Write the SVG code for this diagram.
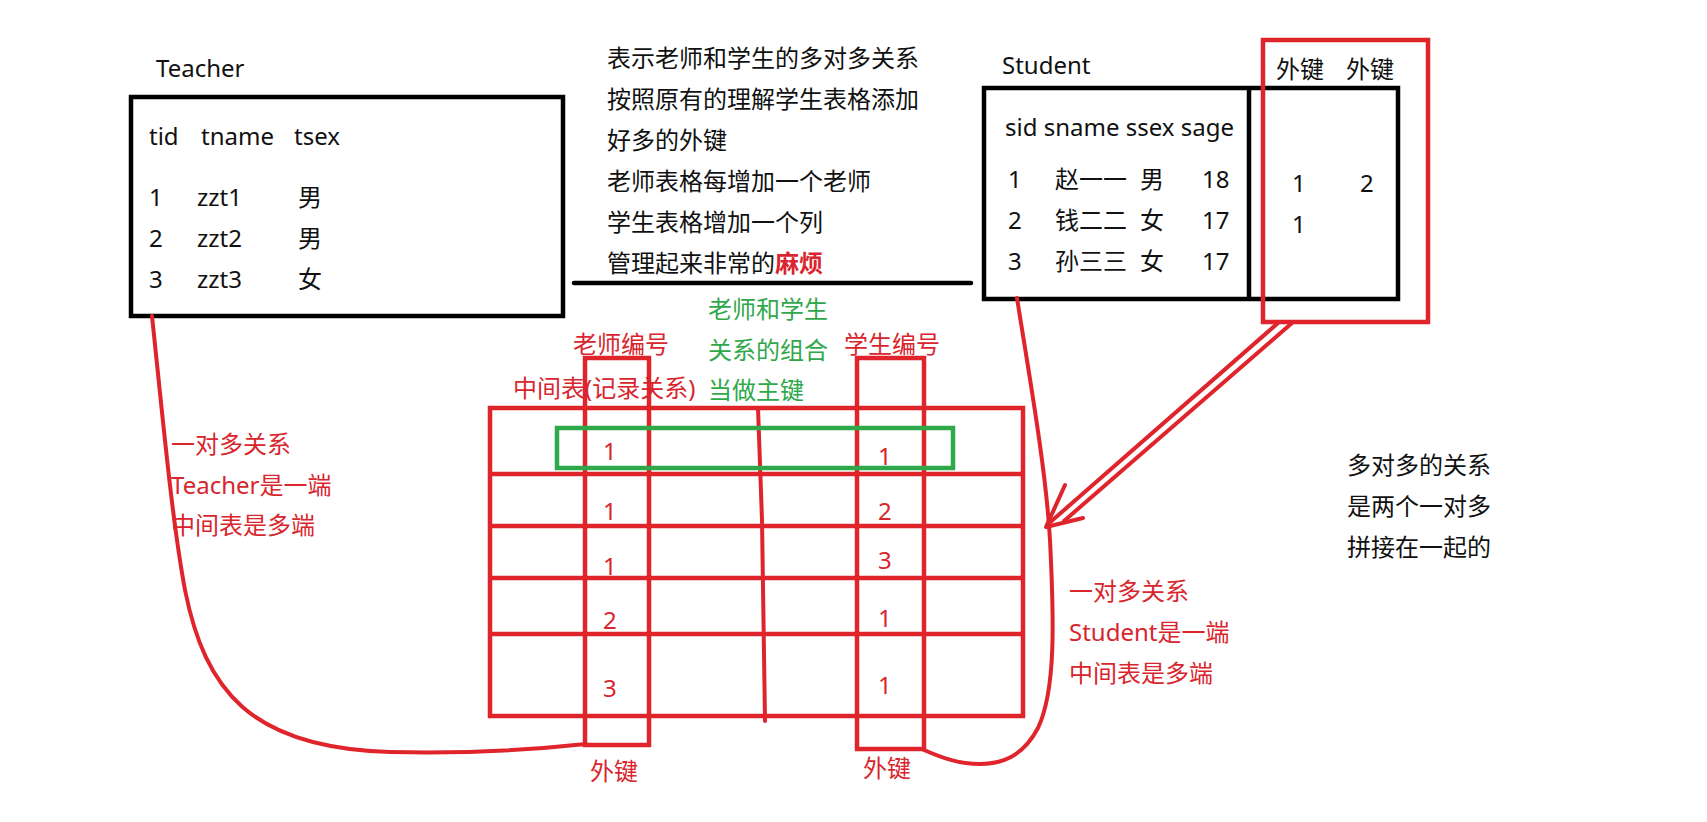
<svg xmlns="http://www.w3.org/2000/svg" width="1707" height="822" viewBox="0 0 1707 822">
<style>
text{font-family:"Noto Sans","Noto Sans CJK SC",sans-serif;font-size:24px;fill:#111}
.r{fill:#d9252d}
.g{fill:#2fa84a}
.b{fill:none;stroke:#000;stroke-width:4.5}
.rl{fill:none;stroke:#e0242c;stroke-width:4.5}
.rc{fill:none;stroke:#e0242c;stroke-width:4;stroke-linecap:round;stroke-linejoin:round}
.gl{fill:none;stroke:#2fa84a;stroke-width:4.5}
</style>
<rect width="1707" height="822" fill="#fff"/>

<g id="teacher">
<text x="156" y="77">Teacher</text>
<rect class="b" x="131" y="97" width="432" height="219"/>
<text x="149" y="145">tid</text><text x="201" y="145">tname</text><text x="294" y="145">tsex</text>
<text x="149" y="206">1</text><text x="197" y="206">zzt1</text><text x="298" y="206">男</text>
<text x="149" y="247">2</text><text x="197" y="247">zzt2</text><text x="298" y="247">男</text>
<text x="149" y="288">3</text><text x="197" y="288">zzt3</text><text x="298" y="288">女</text>
</g>

<g id="note-top">
<text x="607" y="67">表示老师和学生的多对多关系</text>
<text x="607" y="108">按照原有的理解学生表格添加</text>
<text x="607" y="149">好多的外键</text>
<text x="607" y="190">老师表格每增加一个老师</text>
<text x="607" y="231">学生表格增加一个列</text>
<text x="607" y="272">管理起来非常的<tspan class="r" font-weight="bold">麻烦</tspan></text>
<line x1="574" y1="283" x2="971" y2="283" stroke="#000" stroke-width="4.5" stroke-linecap="round"/>
</g>

<g id="student">
<text x="1002" y="74">Student</text>
<rect class="b" x="984" y="88" width="414" height="211"/>
<line class="b" x1="1249" y1="88" x2="1249" y2="299"/>
<text x="1005" y="136">sid sname ssex sage</text>
<text x="1008" y="188">1</text><text x="1055" y="188">赵一一</text><text x="1140" y="188">男</text><text x="1202" y="188">18</text>
<text x="1008" y="229">2</text><text x="1055" y="229">钱二二</text><text x="1140" y="229">女</text><text x="1202" y="229">17</text>
<text x="1008" y="270">3</text><text x="1055" y="270">孙三三</text><text x="1140" y="270">女</text><text x="1202" y="270">17</text>
</g>

<g id="fk-columns">
<text x="1276" y="78">外键</text><text x="1346" y="78">外键</text>
<text x="1292" y="192">1</text><text x="1360" y="192">2</text>
<text x="1292" y="233">1</text>
<rect class="rl" x="1263" y="40" width="165" height="282"/>
</g>

<g id="middle-table">
<rect class="rl" x="490" y="408" width="533" height="308"/>
<line class="rl" x1="490" y1="474" x2="1023" y2="474"/>
<line class="rl" x1="490" y1="526" x2="1023" y2="526"/>
<line class="rl" x1="490" y1="578" x2="1023" y2="578"/>
<line class="rl" x1="490" y1="634" x2="1023" y2="634"/>
<path class="rc" d="M758,408 L762,520 L765,721"/>
<rect class="rl" x="585" y="358" width="64" height="387"/>
<rect class="rl" x="857" y="358" width="67" height="391"/>
<rect class="gl" x="557" y="428" width="396" height="40"/>
<text class="r" x="603" y="460">1</text>
<text class="r" x="603" y="520">1</text>
<text class="r" x="603" y="575">1</text>
<text class="r" x="603" y="629">2</text>
<text class="r" x="603" y="697">3</text>
<text class="r" x="878" y="465">1</text>
<text class="r" x="878" y="520">2</text>
<text class="r" x="878" y="569">3</text>
<text class="r" x="878" y="627">1</text>
<text class="r" x="878" y="694">1</text>
<text class="r" x="573" y="353">老师编号</text>
<text class="r" x="844" y="353">学生编号</text>
<text class="r" x="513" y="397">中间表(记录关系)</text>
<text class="g" x="708" y="318">老师和学生</text>
<text class="g" x="708" y="359">关系的组合</text>
<text class="g" x="708" y="399">当做主键</text>
<text class="r" x="590" y="780">外键</text>
<text class="r" x="863" y="777">外键</text>
</g>

<g id="note-left">
<text class="r" x="171" y="453">一对多关系</text>
<text class="r" x="171" y="494">Teacher是一端</text>
<text class="r" x="171" y="534">中间表是多端</text>
</g>

<g id="note-right">
<text class="r" x="1069" y="600">一对多关系</text>
<text class="r" x="1069" y="641">Student是一端</text>
<text class="r" x="1069" y="682">中间表是多端</text>
</g>

<g id="note-far-right">
<text x="1347" y="474">多对多的关系</text>
<text x="1347" y="515">是两个一对多</text>
<text x="1347" y="556">拼接在一起的</text>
</g>

<g id="connectors">
<path class="rc" d="M152,316 C163,420 172,520 185,590 C205,690 250,748 390,752 C470,754 530,750 586,744"/>
<path class="rc" d="M1017,298 C1030,380 1046,470 1050,540 C1054,620 1056,690 1038,728 C1022,758 1000,764 980,764 C958,764 940,757 924,750"/>
<path class="rc" d="M1278,323 L1047,525"/>
<path class="rc" d="M1292,323 L1064,521"/>
<path class="rc" d="M1065,485 L1046,527 L1083,518"/>
</g>
</svg>
